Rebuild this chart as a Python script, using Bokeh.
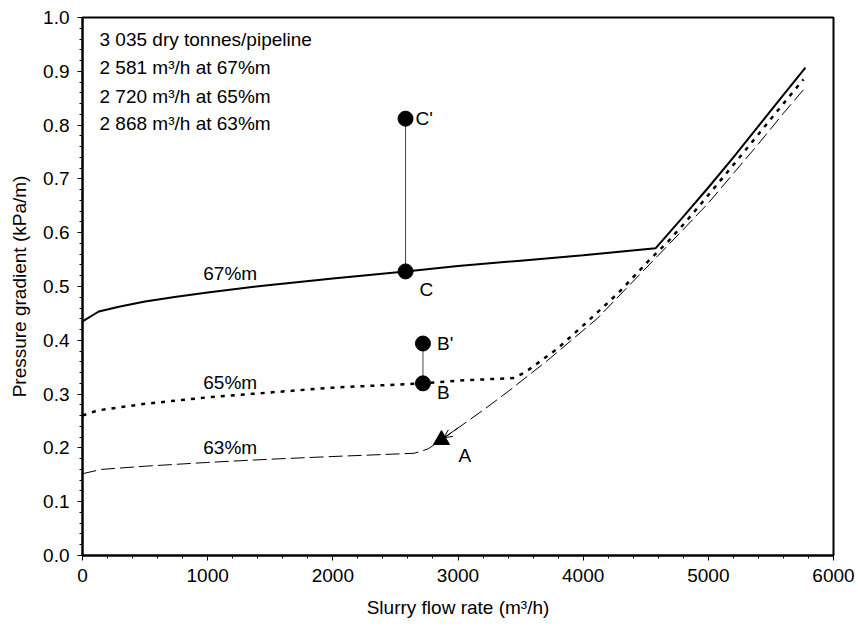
from bokeh.plotting import figure
from bokeh.models import Range1d, FixedTicker, Arrow, OpenHead, ColumnDataSource, CustomJSTickFormatter
from bokeh.core.properties import value
from bokeh.embed import file_html
from bokeh.resources import INLINE

# --- data ---
flow_67 = [0, 130, 300, 500, 750, 1000, 1500, 2000, 2581, 3000, 3500, 4000, 4578,
           4800, 5000, 5200, 5400, 5600, 5776]
grad_67 = [0.435, 0.4535, 0.463, 0.472, 0.481, 0.489, 0.503, 0.515, 0.528, 0.538, 0.548, 0.558, 0.571,
           0.630, 0.684, 0.740, 0.798, 0.856, 0.907]

flow_65 = [0, 117, 500, 1000, 1356, 2000, 2720, 3000, 3450, 3539, 3792, 4045, 4285, 4524, 4684, 4830,
           5000, 5200, 5400, 5600, 5760]
grad_65 = [0.260, 0.2695, 0.282, 0.294, 0.3005, 0.312, 0.320, 0.325, 0.330, 0.341, 0.384, 0.437, 0.489, 0.548, 0.585, 0.623,
           0.670, 0.726, 0.783, 0.840, 0.885]

flow_63 = [0, 150, 500, 1000, 1500, 2000, 2650, 2760, 2868, 3000, 3200, 3393, 3712, 4110, 4459, 4779,
           5000, 5200, 5400, 5600, 5768]
grad_63 = [0.152, 0.160, 0.166, 0.173, 0.179, 0.184, 0.190, 0.198, 0.215, 0.237, 0.270, 0.3035, 0.362, 0.440, 0.524, 0.601,
           0.655, 0.710, 0.765, 0.822, 0.868]

circle_labels = ["C", "C'", "B", "B'"]
circle_flow = [2581, 2581, 2720, 2720]
circle_grad = [0.528, 0.812, 0.320, 0.394]

tri_label = ["A"]
tri_flow = [2868]
tri_grad = [0.215]

curve_labels = ["67%m", "65%m", "63%m"]
curve_label_flow = [1180, 1180, 1180]
curve_label_grad = [0.524, 0.322, 0.201]

info_lines = ["3 035 dry tonnes/pipeline", "2 581 m³/h at 67%m",
              "2 720 m³/h at 65%m", "2 868 m³/h at 63%m"]
info_flow = 136
info_grad = [0.959, 0.907, 0.853, 0.803]

x_ticks = [0, 1000, 2000, 3000, 4000, 5000, 6000]
y_ticks = [0.0, 0.1, 0.2, 0.3, 0.4, 0.5, 0.6, 0.7, 0.8, 0.9, 1.0]

FONT = "Liberation Sans"
FS = "19px"

p = figure(width=858, height=630, output_backend="svg", toolbar_location=None,
           x_range=Range1d(0, 6000), y_range=Range1d(0, 1.0),
           min_border_left=82, min_border_right=25, min_border_top=17, min_border_bottom=75)
p.background_fill_color = "white"
p.border_fill_color = "white"
p.xgrid.visible = False
p.ygrid.visible = False
p.outline_line_color = "black"
p.outline_line_width = 2

for ax in (p.xaxis[0], p.yaxis[0]):
    ax.axis_line_width = 2
    ax.axis_line_color = "black"
    ax.major_tick_in = 0
    ax.major_tick_out = 5
    ax.minor_tick_in = 0
    ax.minor_tick_out = 3
    ax.major_tick_line_width = 1
    ax.minor_tick_line_width = 1
    ax.major_tick_line_color = "black"
    ax.minor_tick_line_color = "black"
    ax.major_label_text_font = FONT
    ax.major_label_text_font_size = FS
    ax.major_label_text_color = "black"
    ax.axis_label_text_font = FONT
    ax.axis_label_text_font_size = FS
    ax.axis_label_text_font_style = "normal"
    ax.axis_label_text_color = "black"

p.xaxis.ticker = FixedTicker(ticks=x_ticks, minor_ticks=list(range(0, 6001, 200)))
p.yaxis.ticker = FixedTicker(ticks=y_ticks, minor_ticks=[i / 50 for i in range(51)])
p.yaxis.formatter = CustomJSTickFormatter(code="return tick.toFixed(1);")
p.xaxis.axis_label = "Slurry flow rate (m³/h)"
p.yaxis.axis_label = "Pressure gradient (kPa/m)"
p.xaxis.major_label_standoff = 8
p.yaxis.major_label_standoff = 8
p.xaxis.axis_label_standoff = 12
p.yaxis.axis_label_standoff = 10

# curves
p.line(flow_67, grad_67, line_color="black", line_width=2)
p.line(flow_65, grad_65, line_color="black", line_width=2.5, line_dash="4 6")
p.line(flow_63, grad_63, line_color="black", line_width=1, line_dash="14 5")

# vertical connectors
p.segment(x0=[circle_flow[0], circle_flow[2]], y0=[circle_grad[0], circle_grad[2]],
          x1=[circle_flow[1], circle_flow[3]], y1=[circle_grad[1], circle_grad[3]],
          line_color="#444444", line_width=1)

p.add_layout(Arrow(end=OpenHead(size=8, line_width=1, line_color="black"),
                   x_start=3000, y_start=0.237, x_end=tri_flow[0] + 20, y_end=tri_grad[0] + 0.004,
                   line_width=1, line_color="black"))

p.scatter(circle_flow, circle_grad, marker="circle", size=15, fill_color="black", line_color="black")
p.scatter(tri_flow, tri_grad, marker="triangle", size=16, fill_color="black", line_color="black")

# point labels
src = ColumnDataSource(dict(x=circle_flow + tri_flow, y=circle_grad + tri_grad,
                            t=circle_labels + tri_label,
                            xo=[14, 10, 14, 14, 17], yo=[18, 0, 9, 0, 16]))
p.text(x="x", y="y", text="t", x_offset="xo", y_offset="yo", source=src,
       text_font=value(FONT), text_font_size=FS, text_align="left", text_baseline="middle",
       text_color="black")

p.text(x=curve_label_flow, y=curve_label_grad, text=curve_labels,
       text_font=value(FONT), text_font_size=FS, text_align="center", text_baseline="middle",
       text_color="black")

p.text(x=[info_flow] * 4, y=info_grad, text=info_lines,
       text_font=value(FONT), text_font_size=FS, text_align="left", text_baseline="middle",
       text_color="black")

open("out.html", "w").write(file_html(p, INLINE))
